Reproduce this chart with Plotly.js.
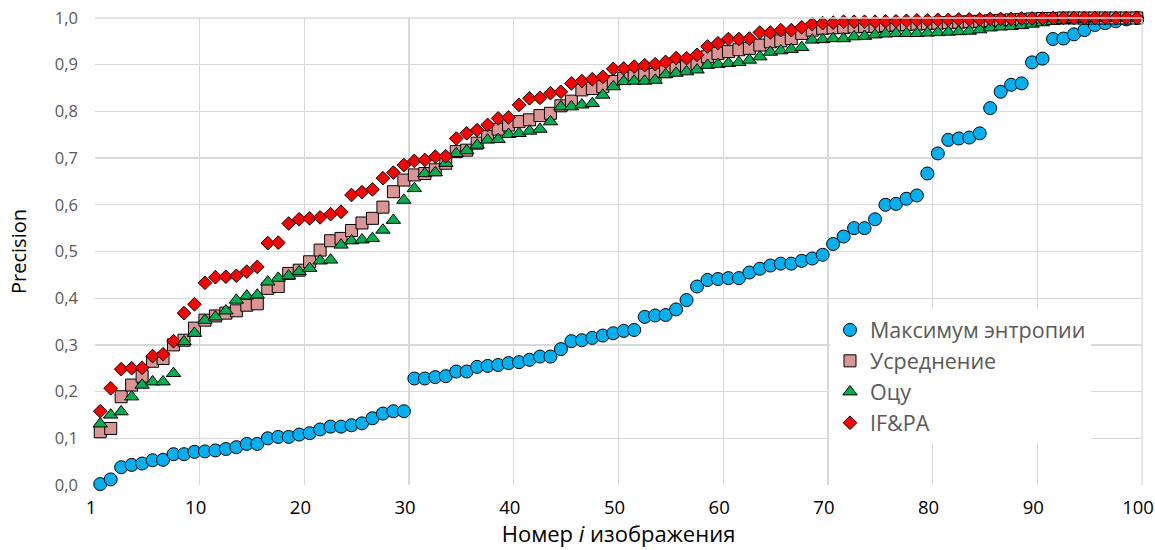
<!DOCTYPE html>
<html>
<head>
<meta charset="utf-8">
<script src="https://cdn.plot.ly/plotly-3.0.1.min.js"></script>
<style>html,body{margin:0;padding:0;background:#fff;}#chart{width:1155px;height:550px;}</style>
</head>
<body>
<div id="chart"></div>
<script>
// Image numbers 1..100 (plotted at the centre of each category slot)
const imageIndex = Array.from({length: 100}, (_, k) => k + 1);

const maxEntropy = [
0.002,0.012,0.038,0.043,0.046,0.053,0.054,0.066,0.066,0.071,
0.072,0.074,0.077,0.081,0.088,0.088,0.100,0.103,0.103,0.108,
0.111,0.119,0.125,0.125,0.128,0.132,0.143,0.153,0.158,0.158,
0.228,0.228,0.231,0.233,0.243,0.243,0.253,0.255,0.257,0.261,
0.263,0.268,0.275,0.275,0.291,0.308,0.310,0.315,0.320,0.325,
0.330,0.332,0.360,0.363,0.364,0.376,0.396,0.425,0.439,0.441,
0.443,0.443,0.455,0.463,0.470,0.474,0.474,0.480,0.485,0.493,
0.516,0.532,0.550,0.550,0.569,0.600,0.602,0.613,0.620,0.667,
0.710,0.739,0.742,0.744,0.753,0.807,0.842,0.857,0.860,0.905,
0.913,0.955,0.956,0.965,0.974,0.985,0.989,0.993,0.997,1.000];

const averaging = [
0.114,0.121,0.189,0.214,0.233,0.265,0.271,0.300,0.310,0.336,
0.353,0.362,0.368,0.373,0.385,0.388,0.421,0.425,0.453,0.460,
0.478,0.503,0.523,0.528,0.545,0.561,0.571,0.595,0.628,0.653,
0.664,0.667,0.675,0.689,0.714,0.717,0.732,0.746,0.762,0.771,
0.778,0.782,0.791,0.796,0.812,0.822,0.846,0.849,0.853,0.864,
0.871,0.876,0.878,0.879,0.885,0.892,0.896,0.903,0.917,0.924,
0.928,0.932,0.935,0.942,0.949,0.951,0.956,0.967,0.974,0.978,
0.979,0.980,0.981,0.982,0.982,0.984,0.985,0.986,0.987,0.988,
0.989,0.990,0.991,0.992,0.993,0.994,0.995,0.996,0.997,0.998,
0.999,0.999,1.000,1.000,1.000,1.000,1.000,1.000,1.000,1.000];

const otsu = [
0.131,0.150,0.157,0.189,0.214,0.221,0.221,0.239,0.307,0.325,
0.353,0.360,0.373,0.396,0.405,0.407,0.435,0.443,0.448,0.457,
0.464,0.480,0.482,0.514,0.523,0.525,0.528,0.546,0.567,0.610,
0.635,0.667,0.669,0.689,0.710,0.716,0.728,0.739,0.740,0.751,
0.753,0.758,0.762,0.778,0.810,0.810,0.814,0.817,0.835,0.853,
0.864,0.865,0.865,0.867,0.879,0.882,0.885,0.889,0.899,0.901,
0.903,0.905,0.910,0.917,0.927,0.930,0.933,0.937,0.953,0.954,
0.956,0.956,0.960,0.961,0.964,0.966,0.967,0.967,0.967,0.968,
0.969,0.970,0.971,0.972,0.975,0.979,0.981,0.982,0.984,0.987,
0.990,0.993,0.995,0.997,0.998,0.999,1.000,1.000,1.000,1.000];

const ifpa = [
0.158,0.207,0.248,0.250,0.251,0.276,0.280,0.308,0.368,0.387,
0.433,0.445,0.446,0.448,0.457,0.467,0.518,0.519,0.560,0.569,
0.571,0.573,0.580,0.585,0.621,0.627,0.633,0.657,0.669,0.685,
0.694,0.696,0.703,0.704,0.742,0.753,0.760,0.771,0.785,0.787,
0.814,0.828,0.829,0.839,0.842,0.860,0.865,0.869,0.874,0.891,
0.892,0.896,0.899,0.901,0.906,0.914,0.914,0.921,0.939,0.946,
0.955,0.955,0.956,0.969,0.969,0.974,0.974,0.980,0.987,0.989,
0.990,0.992,0.992,0.992,0.992,0.993,0.993,0.994,0.995,0.995,
0.996,0.996,0.997,0.997,0.997,0.998,0.998,0.998,0.999,0.999,
0.999,1.000,1.000,1.000,1.000,1.000,1.000,1.000,1.000,1.000];

const seriesNames = ["Максимум энтропии", "Усреднение", "Оцу", "IF&PA"];
const xTickVals = [0,10,20,30,40,50,60,70,80,90,100];
const xTickText = ["1","10","20","30","40","50","60","70","80","90","100"];

const xPos = imageIndex.map(i => i - 0.5);
const FONT = "Open Sans, Noto Sans, sans-serif";

const traces = [
  {y: maxEntropy, name: seriesNames[0], marker: {symbol: "circle", size: 13, color: "#00B0F0", line: {color: "#000", width: 1}}},
  {y: averaging, name: seriesNames[1], marker: {symbol: "square", size: 12, color: "#D99694", line: {color: "#000", width: 1}}},
  {y: otsu, name: seriesNames[2], marker: {symbol: "triangle-up", size: 12.5, color: "#00B050", line: {color: "#000", width: 1}}},
  {y: ifpa, name: seriesNames[3], marker: {symbol: "diamond", size: 10.5, color: "#FF0000", line: {color: "#000", width: 1}}}
].map((t, k) => Object.assign({x: xPos, type: "scatter", mode: "markers", legendgroup: "g" + k, cliponaxis: false}, t));

const layout = {
  width: 1155, height: 550,
  margin: {l: 95, r: 13, t: 18, b: 65},
  paper_bgcolor: "#fff", plot_bgcolor: "#fff",
  separators: ", ",
  font: {family: FONT, color: "#595959"},
  xaxis: {
    range: [0, 100], tickvals: xTickVals, ticktext: xTickText,
    showgrid: true, gridcolor: "#D9D9D9", gridwidth: 1.3, zeroline: false,
    showline: false, ticks: "", ticklabelstandoff: 9, ticklabeloverflow: "allow",
    ticklabelshift: -4,
    tickfont: {family: FONT, size: 18.5, color: "#000"},
    title: {text: "Номер <i>i</i> изображения", font: {family: FONT, size: 22, color: "#000"}, standoff: 0}
  },
  yaxis: {
    range: [0, 1], dtick: 0.1, tickformat: ".1f",
    showgrid: true, gridcolor: "#D9D9D9", gridwidth: 1.3, zeroline: false,
    showline: false, ticks: "", ticklabelstandoff: 16,
    tickfont: {family: FONT, size: 16.5, color: "#595959"},
    title: {text: "Precision", font: {family: FONT, size: 20, color: "#000"}, standoff: 22}
  },
  shapes: [
    {type: "line", xref: "paper", yref: "paper", x0: 1, x1: 1, y0: 0, y1: 1, line: {color: "#D9D9D9", width: 1.3}},
    {type: "line", xref: "paper", yref: "paper", x0: 0, x1: 1, y0: 1, y1: 1, line: {color: "#D9D9D9", width: 1.3}}
  ],
  legend: {
    x: 0.702, y: 0.376, xanchor: "left", yanchor: "top",
    bgcolor: "rgba(255,255,255,1)", borderwidth: 0,
    font: {family: FONT, size: 21.5, color: "#595959"},
    tracegroupgap: 0
  },
  showlegend: true
};

Plotly.newPlot("chart", traces, layout, {displayModeBar: false, staticPlot: true});
</script>
</body>
</html>
